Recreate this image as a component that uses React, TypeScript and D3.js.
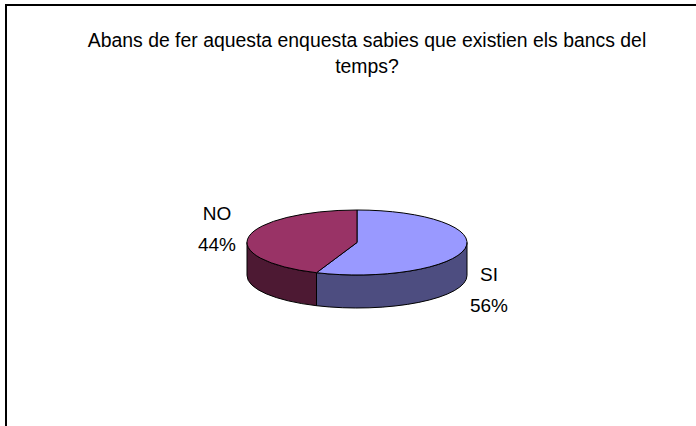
import React from 'react';
import * as d3 from 'd3';

const categories = ['SI', 'NO'];
const values = [56, 44];
const pctLabels = ['56%', '44%'];
const titleLines = ['Abans de fer aquesta enquesta sabies que existien els bancs del', 'temps?'];

const topColors = ['#9999FF', '#993366'];
const sideColors = ['#4D4D80', '#4D1933'];

const W = 696;
const H = 426;

const App = () => {
  // 3D pie geometry
  const cx = 357;
  const cy = 242.5;
  const rx = 110;
  const ry = 32.5;
  const depth = 33;

  const pie = d3.pie<number>().sort(null).startAngle(0).endAngle(2 * Math.PI);
  const arcs = pie(values);

  const pt = (a: number, dy = 0) => [cx + rx * Math.sin(a), cy - ry * Math.cos(a) + dy];

  const topPath = (a0: number, a1: number) => {
    const [x0, y0] = pt(a0);
    const [x1, y1] = pt(a1);
    const large = a1 - a0 > Math.PI ? 1 : 0;
    return `M${cx},${cy}L${x0},${y0}A${rx},${ry} 0 ${large} 1 ${x1},${y1}Z`;
  };

  // front-facing part of the rim for a slice
  const sidePath = (a0: number, a1: number) => {
    const s = Math.max(a0, Math.PI / 2);
    const e = Math.min(a1, (3 * Math.PI) / 2);
    if (e <= s) return null;
    const [x0, y0] = pt(s);
    const [x1, y1] = pt(e);
    return `M${x0},${y0}A${rx},${ry} 0 0 1 ${x1},${y1}L${x1},${y1 + depth}A${rx},${ry} 0 0 0 ${x0},${y0 + depth}Z`;
  };

  const labelPos = [
    {x: 489, y: 281},
    {x: 217, y: 220},
  ];

  return (
    <svg width={W} height={H} style={{position: 'absolute', left: 0, top: 0, background: '#fff'}}
      fontFamily="'Liberation Sans', Arial, sans-serif">
      <rect x={6} y={5} width={W + 10} height={H + 10} fill="#fff" stroke="#000" strokeWidth={2} />

      <text x={367} y={47} textAnchor="middle" fontSize={19.4} fill="#000">{titleLines[0]}</text>
      <text x={367} y={73} textAnchor="middle" fontSize={19.4} fill="#000">{titleLines[1]}</text>

      <g stroke="#000" strokeWidth={1} strokeLinejoin="round">
        {arcs.map((d, i) => {
          const p = sidePath(d.startAngle, d.endAngle);
          return p ? <path key={'s' + i} d={p} fill={sideColors[i]} /> : null;
        })}
        {arcs.map((d, i) => (
          <path key={'t' + i} d={topPath(d.startAngle, d.endAngle)} fill={topColors[i]} />
        ))}
      </g>

      {categories.map((c, i) => (
        <text key={c} x={labelPos[i].x} y={labelPos[i].y} textAnchor="middle" fontSize={19} fill="#000">
          <tspan x={labelPos[i].x}>{c}</tspan>
          <tspan x={labelPos[i].x} dy={31}>{pctLabels[i]}</tspan>
        </text>
      ))}
    </svg>
  );
};

export default App;
